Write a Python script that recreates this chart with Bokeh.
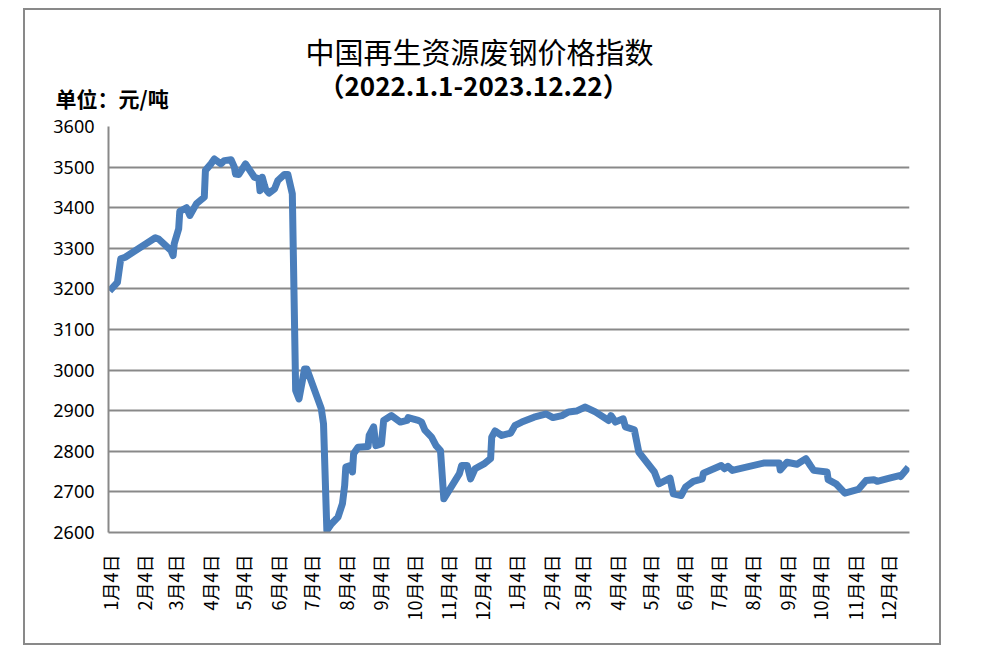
import math
import pandas as pd
from bokeh.plotting import figure
from bokeh.models import Range1d, FixedTicker, Title
from bokeh.embed import file_html
from bokeh.resources import INLINE

dates = [
    "2022-01-04", "2022-01-11", "2022-01-14", "2022-01-18", "2022-02-14", "2022-02-17", "2022-02-28",
    "2022-03-02", "2022-03-03", "2022-03-07", "2022-03-08", "2022-03-14", "2022-03-17", "2022-03-23",
    "2022-03-30", "2022-03-31", "2022-04-05", "2022-04-08", "2022-04-14", "2022-04-17", "2022-04-23",
    "2022-04-26", "2022-04-27", "2022-04-30", "2022-05-06", "2022-05-14", "2022-05-18", "2022-05-19",
    "2022-05-21", "2022-05-23", "2022-05-24", "2022-05-27", "2022-06-01", "2022-06-04", "2022-06-10",
    "2022-06-13", "2022-06-17", "2022-06-20", "2022-06-23", "2022-06-28", "2022-06-30", "2022-07-13",
    "2022-07-15", "2022-07-18", "2022-07-22", "2022-07-28", "2022-08-01", "2022-08-03", "2022-08-04",
    "2022-08-08", "2022-08-10", "2022-08-11", "2022-08-15", "2022-08-24", "2022-08-25", "2022-08-29",
    "2022-08-31", "2022-09-05", "2022-09-07", "2022-09-14", "2022-09-22", "2022-09-28", "2022-09-29",
    "2022-10-08", "2022-10-11", "2022-10-14", "2022-10-20", "2022-10-24", "2022-10-28", "2022-10-31",
    "2022-11-14", "2022-11-16", "2022-11-21", "2022-11-24", "2022-11-28", "2022-12-06", "2022-12-12",
    "2022-12-13", "2022-12-16", "2022-12-22", "2022-12-30", "2023-01-03", "2023-01-09", "2023-01-20",
    "2023-01-31", "2023-02-06", "2023-02-14", "2023-02-20", "2023-02-27", "2023-03-07", "2023-03-16",
    "2023-03-28", "2023-03-30", "2023-04-03", "2023-04-10", "2023-04-12", "2023-04-20", "2023-04-24",
    "2023-05-08", "2023-05-12", "2023-05-22", "2023-05-25", "2023-06-01", "2023-06-05", "2023-06-12",
    "2023-06-20", "2023-06-21", "2023-07-07", "2023-07-10", "2023-07-13", "2023-07-17", "2023-08-14",
    "2023-08-28", "2023-08-29", "2023-09-04", "2023-09-13", "2023-09-21", "2023-09-25", "2023-09-28",
    "2023-10-10", "2023-10-11", "2023-10-18", "2023-10-26", "2023-11-07", "2023-11-14", "2023-11-21",
    "2023-11-24", "2023-12-05", "2023-12-14", "2023-12-15", "2023-12-22",
]

values = [
    3195, 3216, 3274, 3278, 3326, 3323, 3295, 3282, 3311, 3348, 3391, 3400, 3381, 3410, 3426, 3492,
    3508, 3520, 3508, 3516, 3518, 3500, 3483, 3482, 3508, 3475, 3471, 3442, 3475, 3455, 3446, 3436,
    3446, 3467, 3482, 3482, 3434, 2950, 2929, 3003, 3003, 2905, 2868, 2605, 2621, 2638, 2671, 2716,
    2761, 2765, 2749, 2794, 2810, 2812, 2839, 2860, 2814, 2818, 2876, 2888, 2872, 2876, 2883, 2876,
    2872, 2852, 2835, 2814, 2802, 2683, 2745, 2765, 2765, 2732, 2757, 2769, 2782, 2835, 2850, 2839,
    2845, 2864, 2872, 2884, 2892, 2883, 2888, 2897, 2899, 2909, 2897, 2876, 2888, 2872, 2880, 2860,
    2853, 2798, 2749, 2720, 2734, 2695, 2691, 2712, 2726, 2732, 2746, 2765, 2757, 2763, 2753, 2771,
    2771, 2754, 2773, 2768, 2782, 2765, 2753, 2749, 2730, 2720, 2697, 2706, 2728, 2730, 2726, 2734,
    2740, 2738, 2761,
]

tick_dates = [
    "2022-01-04", "2022-02-04", "2022-03-04", "2022-04-04", "2022-05-04", "2022-06-04",
    "2022-07-04", "2022-08-04", "2022-09-04", "2022-10-04", "2022-11-04", "2022-12-04",
    "2023-01-04", "2023-02-04", "2023-03-04", "2023-04-04", "2023-05-04", "2023-06-04",
    "2023-07-04", "2023-08-04", "2023-09-04", "2023-10-04", "2023-11-04", "2023-12-04",
]
tick_labels = [
    "1月4日", "2月4日", "3月4日", "4月4日", "5月4日", "6月4日",
    "7月4日", "8月4日", "9月4日", "10月4日", "11月4日", "12月4日",
    "1月4日", "2月4日", "3月4日", "4月4日", "5月4日", "6月4日",
    "7月4日", "8月4日", "9月4日", "10月4日", "11月4日", "12月4日",
]
y_ticks = [2600, 2700, 2800, 2900, 3000, 3100, 3200, 3300, 3400, 3500, 3600]

title_text = "中国再生资源废钢价格指数"
subtitle_text = "（2022.1.1-2023.12.22）"
unit_text = "单位：元/吨"

origin = pd.Timestamp("2022-01-04")
xs = [(pd.Timestamp(d) - origin).days for d in dates]
tick_x = [(pd.Timestamp(d) - origin).days for d in tick_dates]

GRAY = "#898989"

p = figure(width=918, height=637, output_backend="svg", toolbar_location=None,
           x_range=Range1d(-1, 718), y_range=Range1d(2600, 3600),
           min_border_left=83, min_border_right=34, min_border_top=116, min_border_bottom=115,
           styles={"margin-left": "23px", "margin-top": "8px", "border": "2px solid " + GRAY})
p.outline_line_color = None
p.background_fill_color = "white"
p.border_fill_color = "white"

p.line(xs, values, line_color="#4A7EBB", line_width=7, line_join="round")

# x axis
p.xaxis.ticker = FixedTicker(ticks=tick_x)
p.xaxis.major_label_overrides = {x: t for x, t in zip(tick_x, tick_labels)}
p.xaxis.major_label_orientation = math.pi / 2
p.xaxis.major_label_text_font = "Noto Sans CJK SC"
p.xaxis.major_label_text_font_size = "18px"
p.xaxis.major_label_text_color = "black"
p.xaxis.major_label_standoff = 16
p.xaxis.axis_line_color = GRAY
p.xaxis.axis_line_width = 2
p.xaxis.major_tick_line_color = None
p.xaxis.minor_tick_line_color = None
p.xgrid.visible = False

# y axis
p.yaxis.ticker = FixedTicker(ticks=y_ticks)
p.yaxis.major_label_text_font = "Noto Sans"
p.yaxis.major_label_text_font_size = "18px"
p.yaxis.major_label_text_color = "black"
p.yaxis.major_label_standoff = 8
p.yaxis.axis_line_color = GRAY
p.yaxis.axis_line_width = 2
p.yaxis.major_tick_line_color = None
p.yaxis.minor_tick_line_color = None
p.ygrid.ticker = FixedTicker(ticks=y_ticks)
p.ygrid.grid_line_color = GRAY
p.ygrid.grid_line_width = 2
p.ygrid.grid_line_alpha = 1.0

# titles stacked above the frame (first added is closest to the frame)
p.add_layout(Title(text=unit_text, align="left", offset=-53, standoff=28,
                   text_font="Noto Sans CJK SC", text_font_size="21px", text_font_style="bold",
                   text_color="black"), "above")
p.add_layout(Title(text=subtitle_text, align="left", offset=210, standoff=-72,
                   text_font="Noto Sans CJK SC", text_font_size="26px", text_font_style="bold",
                   text_color="black"), "above")
p.add_layout(Title(text=title_text, align="left", offset=197, standoff=-11,
                   text_font="Noto Sans CJK SC", text_font_size="29px", text_font_style="normal",
                   text_color="black"), "above")

open("out.html", "w").write(file_html(p, INLINE))
